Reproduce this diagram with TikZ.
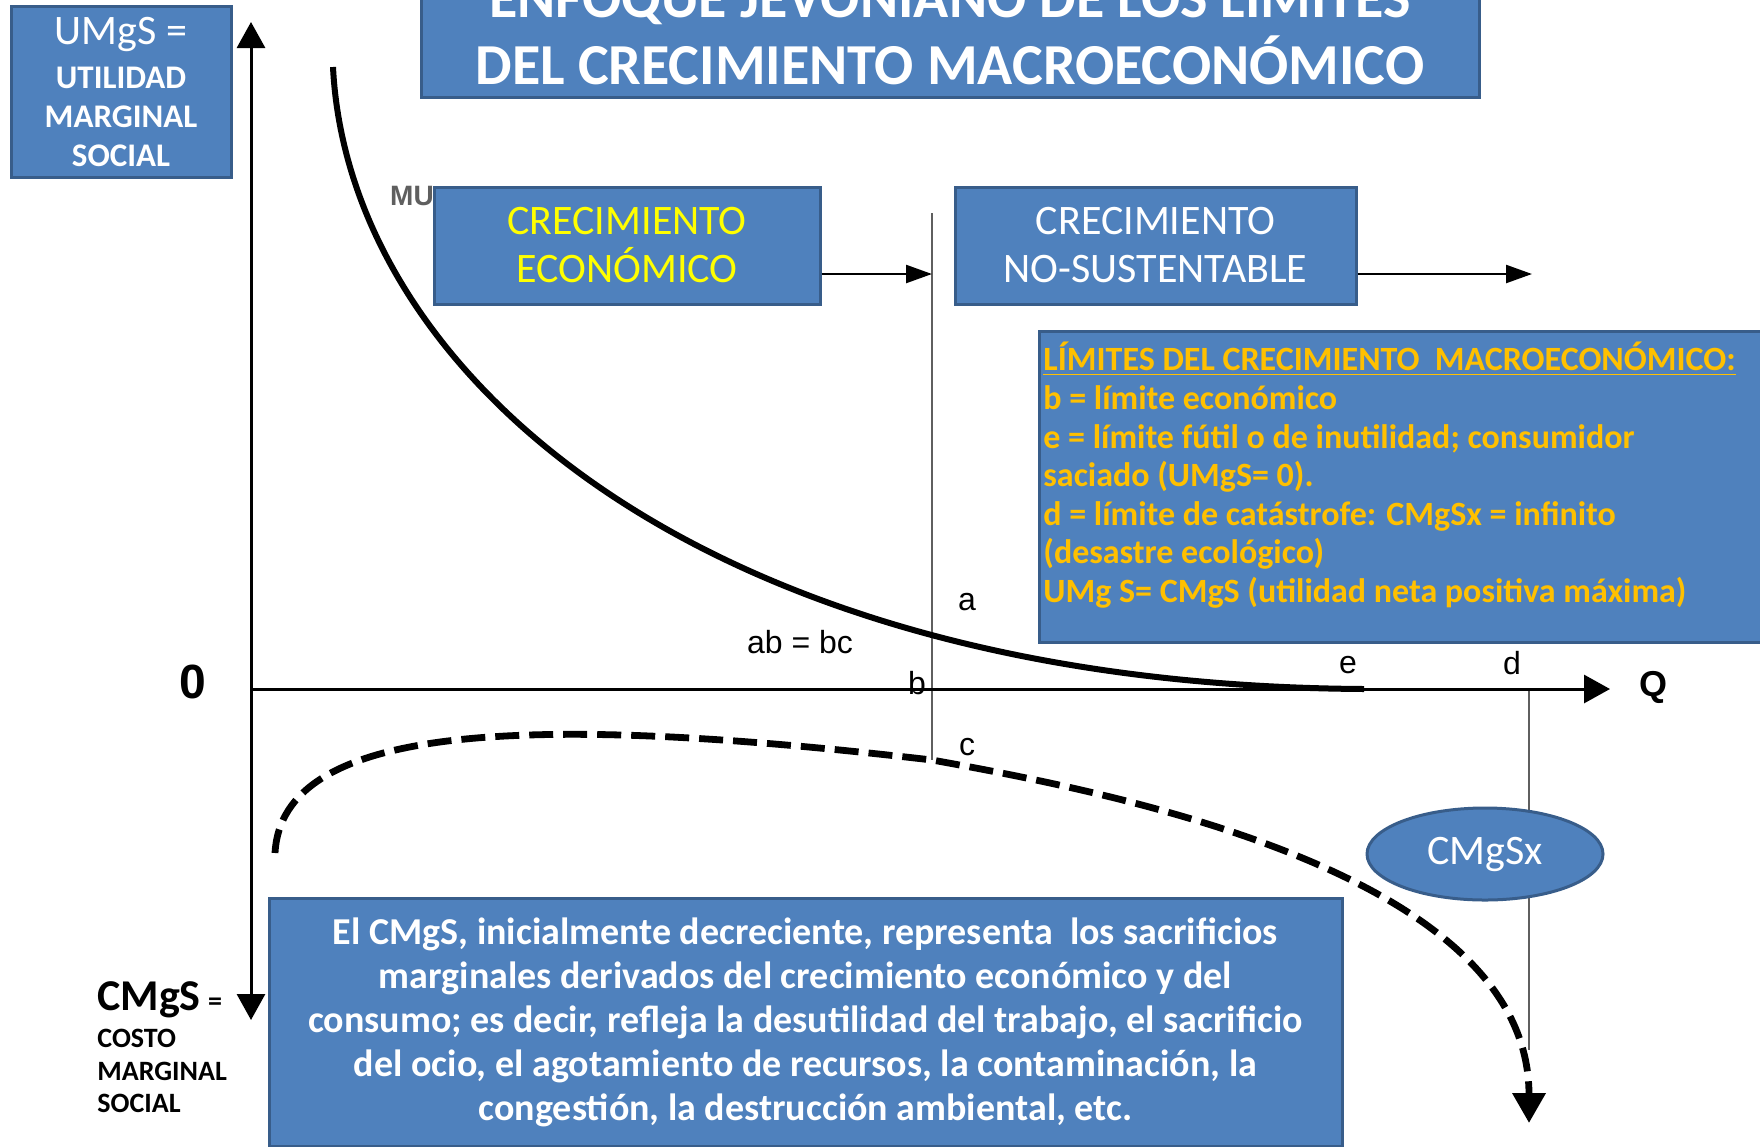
\documentclass[tikz,border=0pt]{standalone}
\usepackage{fontspec}
\setmainfont{Carlito}
\newfontfamily\graffont{Liberation Sans}
\usepackage{tikz}
\usetikzlibrary{calc}
\usetikzlibrary{arrows.meta,shapes,positioning}
\definecolor{caja}{RGB}{79,129,189}
\definecolor{borde}{RGB}{56,93,138}
\definecolor{naranja}{RGB}{255,192,0}
\definecolor{amarillo}{RGB}{255,255,0}
\definecolor{gris}{RGB}{95,95,95}
\newcommand{\fs}[2]{\fontsize{#1}{#2}\selectfont}

\tikzset{
  caja/.style={draw=borde, line width=1.5pt, fill=caja, text=white, align=center, inner sep=0pt},
  eje/.style={line width=1.5pt, -{Triangle[length=13pt,width=14pt]}},
  flecha/.style={line width=1.2pt, -{Triangle[length=13pt,width=9pt]}},
  umg/.style={line width=3pt},
  cmg/.style={line width=3.4pt, dash pattern=on 12pt off 5pt, -{Triangle[length=15pt,width=16pt]}},
  guia/.style={line width=1pt, gris},
  letra/.style={font=\graffont\fs{16}{18}, inner sep=0pt}
}

\begin{document}
\begin{tikzpicture}[x=0.5pt,y=-0.5pt]
\useasboundingbox (0,0) rectangle (1760,1146);

\coordinate (O) at (251,689);
\coordinate (ytop) at (251,22);
\coordinate (ybot) at (251,1020);
\coordinate (xend) at (1610,689);
\coordinate (a) at (932,213);
\coordinate (c) at (932,760);
\coordinate (d) at (1529,689);
\coordinate (dbot) at (1529,1050);

% curvas
\draw[guia] (a) -- (c);
\draw[guia] (d) -- (dbot);
\node[font=\graffont\bfseries\fs{14}{16}, text=gris] (mu) at (412,196) {MU};
\draw[umg] (333,67) .. controls (348,370) and (696,685) .. (1364,689);
\draw[cmg] (275,853) .. controls (282,725) and (520,712) .. (c)
  .. controls (1122,794) and (1529,875) .. (1529,1123);
\draw[eje] (O) -- (ytop);
\draw[eje] (O) -- (ybot);
\draw[eje] (O) -- (xend);

\node[font=\graffont\bfseries\fs{24}{26}] (cero) at (193,682) {0};
\node[font=\graffont\bfseries\fs{18}{20}] (q) at (1653,687) {Q};
\node[letra] (la) at (967,602) {a};
\node[letra] (lb) at (917,683) {b};
\node[letra] (lc) at (967,747) {c};
\node[letra] (le) at (1348,665) {e};
\node[letra] (ld) at (1512,663) {d};
\node[letra] (abbc) at (800,642) {ab = bc};

% cajas
\node[caja, minimum width=529pt, minimum height=80pt, anchor=south] (titulo) at (950,99) {};
\node[font=\fs{29}{33}\bfseries, text=white, anchor=base] (tit1) at (950,17) {ENFOQUE JEVONIANO DE LOS LÍMITES};
\node[font=\fs{29}{33}\bfseries, text=white, anchor=base] (tit2) at (950,84) {DEL CRECIMIENTO MACROECONÓMICO};

\node[caja, minimum width=110pt, minimum height=85.5pt, font=\fs{16.5}{19.5}\bfseries] (umgs) at (121,91.5)
  {{\mdseries\fs{21}{22}UMgS =}\\[2.5pt] UTILIDAD\\ MARGINAL\\ SOCIAL};

\node[caja, minimum width=193pt, minimum height=58.5pt, text=amarillo, font=\fs{21}{24}] (crec) at (627,245.5)
  {CRECIMIENTO\\ ECONÓMICO};
\node[caja, minimum width=200.5pt, minimum height=58.5pt, font=\fs{21}{24}] (nosust) at (1155.5,245.5)
  {CRECIMIENTO\\ NO-SUSTENTABLE};
\coordinate (p1) at (932,274);
\coordinate (p2) at (1532,274);
\draw[flecha] (crec.east |- p1) -- (p1);
\draw[flecha] (nosust.east |- p2) -- (p2);

\node[caja, minimum width=363.5pt, minimum height=155.5pt, anchor=north west] (limites) at (1038,330) {};
\node[font=\fs{17}{19.3}\bfseries, text=naranja, align=left, inner sep=0pt, anchor=north west,
  below right=6pt and 2.5pt of limites.north west] (limtxt)
  {\underline{LÍMITES DEL CRECIMIENTO\ \ MACROECONÓMICO:}\\
   b = límite económico\\
   e = límite fútil o de inutilidad; consumidor\\
   saciado (UMgS= 0).\\
   d = límite de catástrofe: CMgSx = infinito\\
   (desastre ecológico)\\
   UMg S= CMgS (utilidad neta positiva máxima)};

\node[caja, ellipse, minimum width=118pt, minimum height=46pt, font=\fs{21}{22}] (cmgsx) at (1485,854) {CMgSx};

\node[caja, minimum width=536.5pt, minimum height=124pt, font=\fs{19}{22}\bfseries] (texto) at (805.5,1022)
  {El CMgS, inicialmente decreciente, representa\ \ los sacrificios\\
   marginales derivados del crecimiento económico y del\\
   consumo; es decir, refleja la desutilidad del trabajo, el sacrificio\\
   del ocio, el agotamiento de recursos, la contaminación, la\\
   congestión, la destrucción ambiental, etc.};

\node[font=\fs{22}{24}\bfseries, inner sep=0pt, anchor=base west] (cmgs) at (97,1010) {CMgS\,{\fs{14}{16}=}};
\node[font=\fs{14}{16.3}\bfseries, inner sep=0pt, align=left, anchor=north west] (cmgstxt) at (97,1029)
  {COSTO\\ MARGINAL\\ SOCIAL};
\end{tikzpicture}
\end{document}
